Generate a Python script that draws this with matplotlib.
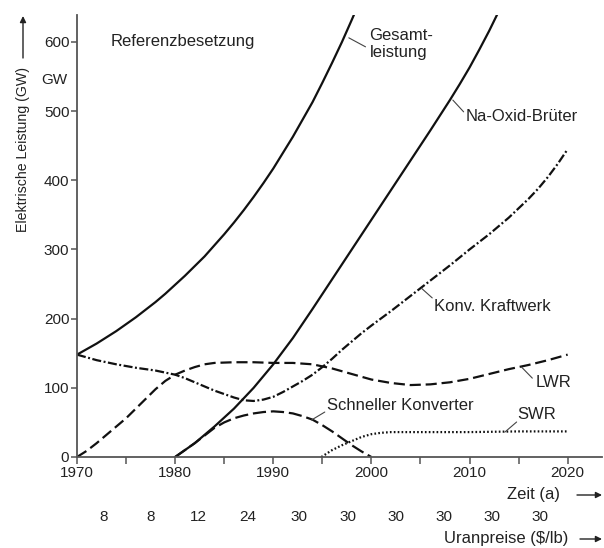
import matplotlib
matplotlib.use('Agg')
import matplotlib.pyplot as plt

plt.rcParams['font.family'] = ['Liberation Sans', 'DejaVu Sans']
plt.rcParams['lines.scale_dashes'] = False

# installed electrical capacity (GW) per plant type
gesamt_years = list(range(1970, 2000))
gesamt_gw = [148, 156, 164, 173, 182, 192, 202, 213, 224, 236, 249, 262, 276, 290, 306,
             322, 339, 357, 376, 396, 417, 440, 463, 488, 513, 541, 570, 600, 632, 665]

brueter_years = [1980, 1981, 1982, 1983, 1984, 1985, 1986, 1987, 1988, 1989, 1990, 1991, 1992, 1994,
                 1996, 1998, 2000, 2002, 2004, 2006, 2008, 2009, 2010, 2011, 2012, 2013, 2014]
brueter_gw = [0, 10, 20, 32, 44, 57, 70, 85, 100, 117, 134, 153, 172, 214,
              257, 300, 343, 386, 429, 472, 516, 539, 563, 589, 616, 645, 675]

konv_years = [1970, 1972, 1974, 1976, 1978, 1980, 1981, 1982, 1983, 1984, 1985, 1986, 1987, 1988,
              1989, 1990, 1991, 1992, 1993, 1994, 1995, 1996, 1997, 1998, 1999, 2000,
              2002, 2004, 2006, 2008, 2010, 2012, 2014, 2016, 2017, 2018, 2019, 2020]
konv_gw = [148, 140, 134, 129, 125, 119, 114, 108, 102, 96, 91, 86, 82, 81,
           83, 87, 94, 102, 110, 119, 130, 142, 155, 167, 179, 190,
           211, 233, 255, 277, 300, 322, 346, 373, 388, 405, 424, 445]

lwr_years = [1970, 1971, 1972, 1973, 1974, 1975, 1976, 1977, 1978, 1979, 1980, 1981, 1982, 1983,
             1984, 1986, 1988, 1990, 1992, 1994, 1996, 1998, 2000, 2002, 2004, 2006, 2008,
             2010, 2012, 2014, 2016, 2018, 2020]
lwr_gw = [0, 9, 20, 32, 44, 56, 70, 84, 98, 110, 119, 125, 130, 134,
          136, 137, 137, 136, 136, 134, 128, 120, 112, 107, 104, 105, 108,
          113, 120, 127, 133, 140, 148]

konverter_years = [1980, 1981, 1982, 1983, 1984, 1985, 1986, 1987, 1988, 1989, 1990, 1991, 1992, 1993,
                   1994, 1995, 1996, 1997, 1998, 1999, 2000]
konverter_gw = [0, 10, 20, 31, 42, 50, 56, 60, 63, 65, 66, 65, 63, 59,
                54, 46, 37, 27, 17, 8, 0]

swr_years = [1994.9, 1996, 1997, 1998, 1999, 2000, 2001, 2002, 2005, 2010, 2015, 2020]
swr_gw = [0, 10, 17, 23, 29, 33, 35, 36, 36, 36, 37, 37]

# uranium price per period ($/lb)
price_labels = ['8', '8', '12', '24', '30', '30', '30', '30', '30', '30']
price_pos = [1972.7, 1977.5, 1982.4, 1987.4, 1992.6, 1997.6, 2002.5, 2007.4, 2012.3, 2017.2]

W, H = 604, 548
fig = plt.figure(figsize=(W / 100, H / 100), dpi=100)
ax = fig.add_axes([77 / W, 1 - 457 / H, 525 / W, 442 / H])

ink = '#111111'
axc = '#555555'
lw = 1.6

ax.plot(gesamt_years, gesamt_gw, color=ink, lw=lw)
ax.plot(brueter_years, brueter_gw, color=ink, lw=lw)
ax.plot(konv_years, konv_gw, color=ink, lw=lw, dashes=(6.5, 1.8, 1.4, 1.8))
ax.plot(lwr_years, lwr_gw, color=ink, lw=lw, dashes=(8, 3.5))
ax.plot(konverter_years, konverter_gw, color=ink, lw=lw, dashes=(9.5, 3.5))
ax.plot(swr_years, swr_gw, color=ink, lw=lw, dashes=(1.2, 1.6))

ax.set_xlim(1970, 2023.5)
ax.set_ylim(0, 639)
ax.set_xticks([1970, 1980, 1990, 2000, 2010, 2020])
ax.set_xticks([1975, 1985, 1995, 2005, 2015], minor=True)
ax.set_yticks([0, 100, 200, 300, 400, 500, 600])
for s in ['top', 'right']:
    ax.spines[s].set_visible(False)
for s in ['left', 'bottom']:
    ax.spines[s].set_color(axc)
    ax.spines[s].set_linewidth(1.3)
ax.tick_params(which='both', color=axc, width=1.1, length=4, labelsize=11, labelcolor='#222222', pad=1.5)
ax.tick_params(axis='x', which='both', length=5)

# curve labels with short leader lines
leader = dict(arrowstyle='-', color='#444444', lw=0.8, shrinkA=0, shrinkB=0)
txt = dict(fontsize=12, color='#222222', va='center', ha='left')
ax.text(1973.4, 600, 'Referenzbesetzung', **txt)
ax.annotate('', xy=(1997.7, 606), xytext=(1999.4, 593), arrowprops=leader)
ax.text(1999.8, 597, 'Gesamt-\nleistung', linespacing=1.2, **txt)
ax.annotate('', xy=(2008.3, 516), xytext=(2009.4, 499), arrowprops=leader)
ax.text(2009.6, 492, 'Na-Oxid-Brüter', **txt)
ax.annotate('', xy=(2005.1, 244), xytext=(2006.2, 230), arrowprops=leader)
ax.text(2006.4, 218, 'Konv. Kraftwerk', **txt)
ax.annotate('', xy=(2015.3, 130), xytext=(2016.4, 114), arrowprops=leader)
ax.text(2016.7, 107, 'LWR', **txt)
ax.annotate('', xy=(1993.9, 53.5), xytext=(1995.25, 65), arrowprops=leader)
ax.text(1995.45, 74, 'Schneller Konverter', **txt)
ax.annotate('', xy=(2013.6, 36), xytext=(2014.8, 50.6), arrowprops=leader)
ax.text(2014.9, 61, 'SWR', **txt)

# unit next to the y tick labels
ax.annotate('GW', xy=(0, 545), xycoords=('axes fraction', 'data'), xytext=(-7, 0),
            textcoords='offset points', ha='right', va='center', fontsize=11, color='#222222')

# y axis title with arrow
fig.text(23 / W, 1 - 149 / H, 'Elektrische Leistung (GW)', rotation=90, ha='center', va='center',
         fontsize=10.2, color='#222222')
arrow = dict(arrowstyle='-|>', color='#222222', lw=1.0, mutation_scale=9, shrinkA=0, shrinkB=0)
fig.add_artist(matplotlib.patches.FancyArrowPatch((23 / W, 1 - 58 / H), (23 / W, 1 - 16 / H),
                                                  transform=fig.transFigure, **arrow))

# time axis caption, price row and price caption
fig.text(560 / W, 1 - 495 / H, 'Zeit (a)', ha='right', va='center', fontsize=12, color='#222222')
fig.add_artist(matplotlib.patches.FancyArrowPatch((577 / W, 1 - 495 / H), (602 / W, 1 - 495 / H),
                                                  transform=fig.transFigure, **arrow))
row = matplotlib.transforms.blended_transform_factory(ax.transData, fig.transFigure)
for p, lab in zip(price_pos, price_labels):
    ax.text(p, 1 - 517 / H, lab, transform=row, ha='center', va='center', fontsize=11, color='#222222')
fig.text(568 / W, 1 - 539 / H, 'Uranpreise ($/lb)', ha='right', va='center', fontsize=12, color='#222222')
fig.add_artist(matplotlib.patches.FancyArrowPatch((580 / W, 1 - 539 / H), (602 / W, 1 - 539 / H),
                                                  transform=fig.transFigure, **arrow))

fig.savefig('out.png', dpi=100)
